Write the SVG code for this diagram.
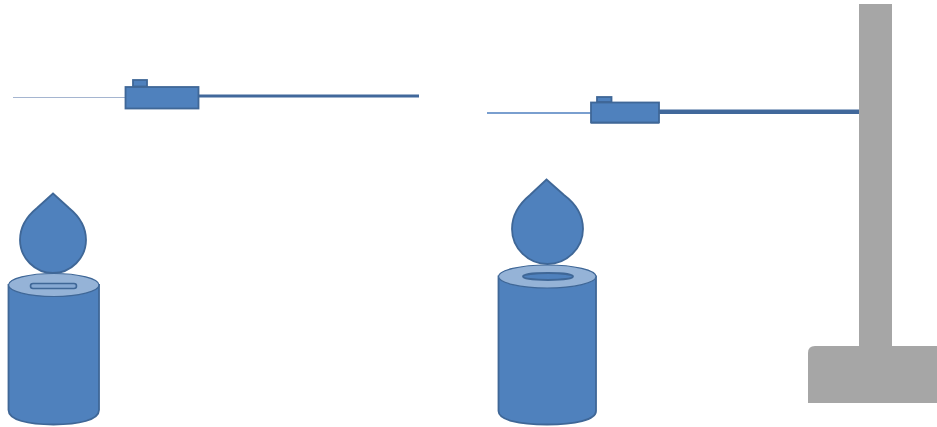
<svg xmlns="http://www.w3.org/2000/svg" width="937" height="427" viewBox="0 0 937 427">
<style>
.b{fill:#4f81bd;stroke:#3f6797;stroke-width:1.8}
.t{fill:#95b3d7;stroke:#3f6797;stroke-width:1.2}
.h{fill:#4f81bd;stroke:#3f6797;stroke-width:1.8}
.h2{fill:#86a8d2;stroke:#3f6797;stroke-width:1.6}
.g{fill:#a6a6a6}
</style>
<rect width="937" height="427" fill="#fff"/>
<g id="left-sensor">
<rect x="13" y="97" width="112" height="1" fill="#a5b5d0"/>
<rect x="199" y="94.500" width="220" height="3" fill="#41689b"/>
<rect class="b" x="133" y="80" width="14" height="6.500"/>
<rect class="b" x="125.500" y="87" width="73" height="21.500"/>
</g>
<g id="left-burner">
<path class="b" d="M53 193.500 L69 208 C80 217 86 228 86 240 C86 258 71 273 53 273 C35 273 20 258 20 240 C20 228 26 217 37 208 Z"/>
<path class="b" d="M8.500 285 V410 C8.500 420 28 424.500 53.500 424.500 C79 424.500 99 420 99 410 V285Z"/>
<ellipse class="t" cx="53.750" cy="285" rx="45.250" ry="11.500"/>
<rect class="h2" x="30.500" y="283.500" width="46" height="5" rx="2.500"/>
</g>
<g id="right-sensor">
<rect x="487" y="112" width="104" height="2" fill="#7a9fcf"/>
<rect x="659" y="109.500" width="201" height="4.500" fill="#41689b"/>
<rect x="591" y="104" width="68" height="20" fill="#8aa2c0"/>
<rect class="b" x="597" y="97" width="14.500" height="5"/>
<rect class="b" x="591" y="102.500" width="68" height="20"/>
</g>
<g id="right-burner">
<path class="b" d="M546.500 179.500 L564 195 C576 204 583 216 583 229 C583 248 567 264 547.500 264 C528 264 512 248 512 229 C512 216 519 204 530 195 Z"/>
<path class="b" d="M498.500 276.500 V411 C498.500 420 519 424.500 547 424.500 C575 424.500 596 420 596 411 V276.500Z"/>
<ellipse class="t" cx="547.250" cy="276.500" rx="48.750" ry="11.500"/>
<ellipse class="h" cx="548" cy="276.500" rx="25" ry="3.500"/>
</g>
<g id="stand">
<rect class="g" x="859" y="4" width="33" height="343"/>
<path class="g" d="M808 403 V353 Q808 346 815 346 H937 V403Z"/>
</g>
</svg>
